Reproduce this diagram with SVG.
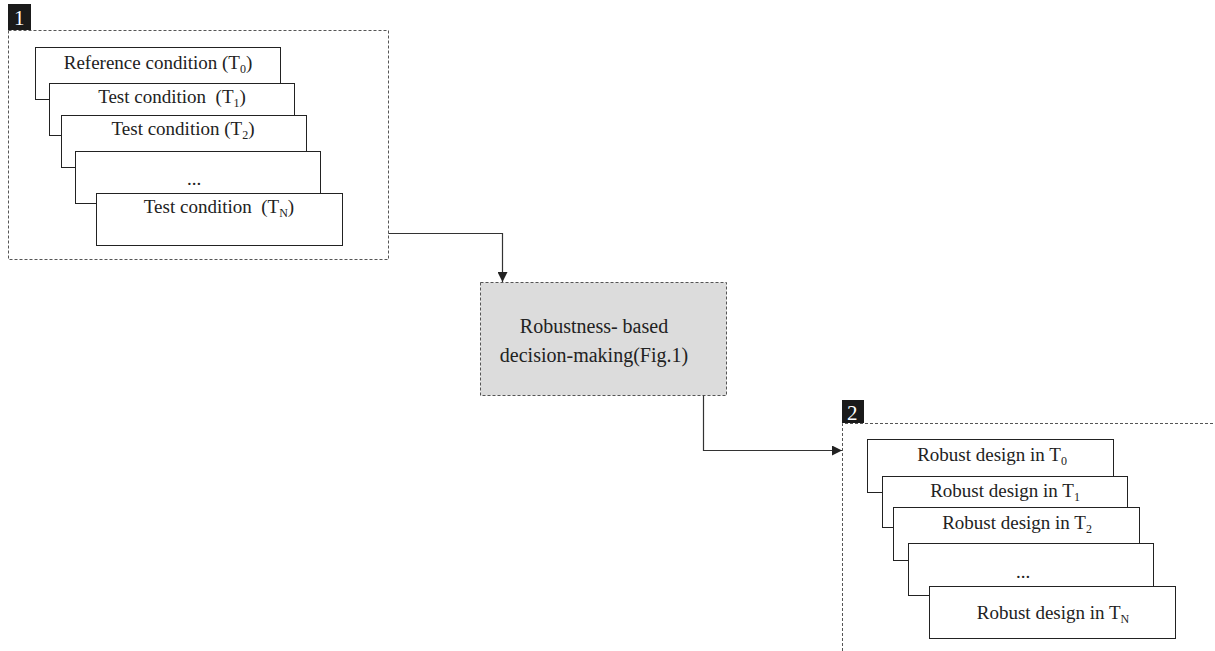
<svg xmlns="http://www.w3.org/2000/svg" width="1215" height="651" viewBox="0 0 1215 651">
<style>
.t{font-family:"Liberation Serif","Times New Roman",serif;font-size:19px;fill:#222;text-anchor:middle;white-space:pre}
.s{font-size:12px}
.card{fill:#fff;stroke:#222;stroke-width:1}
.grp{fill:none;stroke:#555;stroke-width:1;stroke-dasharray:3,2}
.tag{fill:#1a1a1a}
.tagt{font-family:"Liberation Serif","Times New Roman",serif;font-size:21px;fill:#fff}
.con{fill:none;stroke:#333;stroke-width:1.2}
</style>
<defs>
<marker id="ah" viewBox="0 0 10 10" refX="10" refY="5" markerWidth="10" markerHeight="10" markerUnits="userSpaceOnUse" orient="auto">
<path d="M0,0 L10,5 L0,10 z" fill="#222"/>
</marker>
</defs>

<g id="group1">
<rect class="grp" x="8.5" y="30.5" width="380" height="229"/>
<rect class="tag" x="8" y="4" width="23" height="26"/>
<text class="tagt" x="14" y="25">1</text>
<rect class="card" x="35.5" y="47.5" width="245" height="52"/>
<text class="t" x="158" y="69">Reference condition (T<tspan class="s" dy="4">0</tspan><tspan dy="-4">)</tspan></text>
<rect class="card" x="49.5" y="83.5" width="245" height="52"/>
<text class="t" x="172" y="103" xml:space="preserve">Test condition  (T<tspan class="s" dy="4">1</tspan><tspan dy="-4">)</tspan></text>
<rect class="card" x="61.5" y="115.5" width="245" height="52"/>
<text class="t" x="183" y="135">Test condition (T<tspan class="s" dy="4">2</tspan><tspan dy="-4">)</tspan></text>
<rect class="card" x="75.5" y="151.5" width="245" height="52"/>
<text class="t" x="194" y="185">...</text>
<rect class="card" x="96.5" y="193.5" width="246" height="52"/>
<text class="t" x="219" y="213" xml:space="preserve">Test condition  (T<tspan class="s" dy="4">N</tspan><tspan dy="-4">)</tspan></text>
</g>

<g id="decision">
<rect x="480.5" y="282.5" width="246" height="113" fill="#dcdcdc" stroke="#555" stroke-width="1" stroke-dasharray="3,2"/>
<text class="t" x="594" y="333" style="font-size:20px">Robustness- based</text>
<text class="t" x="594" y="362" style="font-size:20px">decision-making(Fig.1)</text>
</g>

<g id="group2">
<path class="grp" d="M842.5,651 V423.5 H1215"/>
<rect class="tag" x="842" y="400" width="22" height="23"/>
<text class="tagt" x="847" y="420">2</text>
<rect class="card" x="867.5" y="439.5" width="246" height="53"/>
<text class="t" x="992" y="461">Robust design in T<tspan class="s" dy="4">0</tspan></text>
<rect class="card" x="882.5" y="476.5" width="245" height="51"/>
<text class="t" x="1005" y="497">Robust design in T<tspan class="s" dy="4">1</tspan></text>
<rect class="card" x="893.5" y="507.5" width="246" height="53"/>
<text class="t" x="1017" y="529">Robust design in T<tspan class="s" dy="4">2</tspan></text>
<rect class="card" x="908.5" y="543.5" width="245" height="52"/>
<text class="t" x="1023" y="578">...</text>
<rect class="card" x="929.5" y="586.5" width="246" height="52"/>
<text class="t" x="1053" y="619">Robust design in T<tspan class="s" dy="4">N</tspan></text>
</g>

<g id="connectors">
<path class="con" d="M388.5,233.5 H502.5 V282" marker-end="url(#ah)"/>
<path class="con" d="M703.5,395.5 V450.5 H842" marker-end="url(#ah)"/>
</g>
</svg>
